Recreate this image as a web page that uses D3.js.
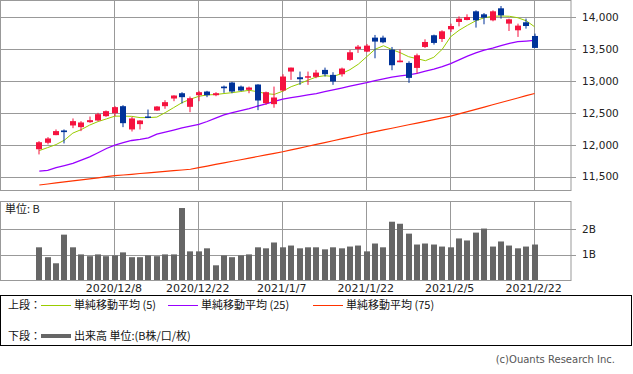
<!DOCTYPE html>
<html><head><meta charset="utf-8">
<script src="https://cdn.jsdelivr.net/npm/d3@7"></script>
<style>
html,body{margin:0;padding:0;background:#fff;}
svg{display:block;}
text{font-family:"DejaVu Sans",sans-serif;}
.jp{font-family:"Noto Sans CJK JP","DejaVu Sans",sans-serif;}
</style></head>
<body>
<svg id="chart" width="633" height="374"></svg>
<script>
const dates = ["2020/11/24","2020/11/25","2020/11/27","2020/11/30","2020/12/1","2020/12/2","2020/12/3","2020/12/4","2020/12/7","2020/12/8",
"2020/12/9","2020/12/10","2020/12/11","2020/12/14","2020/12/15","2020/12/16","2020/12/17","2020/12/18","2020/12/21","2020/12/22",
"2020/12/23","2020/12/24","2020/12/28","2020/12/29","2020/12/30","2020/12/31","2021/1/4","2021/1/5","2021/1/6","2021/1/7",
"2021/1/8","2021/1/11","2021/1/12","2021/1/13","2021/1/14","2021/1/15","2021/1/19","2021/1/20","2021/1/21","2021/1/22",
"2021/1/25","2021/1/26","2021/1/27","2021/1/28","2021/1/29","2021/2/1","2021/2/2","2021/2/3","2021/2/4","2021/2/5",
"2021/2/8","2021/2/9","2021/2/10","2021/2/11","2021/2/12","2021/2/16","2021/2/17","2021/2/18","2021/2/19","2021/2/22"];

const open  = [11930,12031,12151,12224,12302,12276,12354,12380,12448,12495,
12604,12240,12323,12443,12536,12604,12724,12807,12594,12776,
12833,12776,12911,12974,12911,12860,12943,12651,12636,12849,
13146,13057,13057,13063,13172,13094,13104,13328,13500,13458,
13677,13677,13490,13292,13281,13203,13531,13714,13656,13807,
13922,13953,14089,14042,13948,14136,13896,13792,13917,13703];
const high  = [12057,12120,12240,12240,12412,12370,12442,12500,12537,12604,
12620,12437,12385,12552,12605,12698,12775,12823,12755,12844,
12844,12823,12927,12984,12927,12911,12948,12833,12911,13104,
13208,13146,13146,13172,13208,13136,13208,13484,13562,13578,
13719,13708,13531,13490,13307,13427,13651,13724,13792,13896,
14010,14042,14104,14062,14104,14172,13974,13896,13975,13740];
const low   = [11849,12005,12150,12021,12260,12214,12344,12370,12437,12448,
12276,12208,12240,12417,12530,12563,12682,12646,12510,12682,
12745,12760,12813,12807,12838,12807,12542,12625,12580,12833,
13016,12938,12938,13042,13068,12938,13068,13313,13438,13450,
13354,13589,13167,13292,12969,13115,13516,13568,13609,13766,
13854,13948,13834,13886,13933,13974,13781,13688,13818,13516];
const close = [12040,12099,12214,12198,12370,12349,12385,12479,12526,12589,
12338,12412,12380,12427,12599,12667,12771,12745,12729,12823,
12776,12807,12885,12833,12849,12896,12693,12823,12740,13068,
13208,13026,13073,13130,13104,12990,13193,13448,13536,13552,
13615,13604,13245,13318,13047,13401,13609,13594,13776,13859,
13974,14000,13948,13990,14089,14026,13964,13865,13859,13516];

const volume = [1.29,0.90,0.66,1.79,1.29,1.01,0.94,1.01,0.94,0.97,
1.09,0.90,0.90,0.97,0.94,1.01,1.01,2.84,1.13,1.13,
1.25,0.58,0.97,0.90,0.97,1.01,1.29,1.25,1.48,1.29,
1.36,1.25,1.29,1.29,1.21,1.29,1.25,1.32,1.36,1.13,
1.44,1.29,2.30,2.22,1.83,1.40,1.44,1.40,1.32,1.29,
1.64,1.56,1.87,2.03,1.32,1.52,1.36,1.25,1.32,1.40];

const ma5 = [11909,11956,12003,12073,12183,12238,12308,12363,12405,12448,
12448,12445,12425,12425,12433,12503,12581,12659,12714,12758,
12780,12786,12802,12816,12834,12852,12831,12800,12789,12839,
12909,12956,13011,13061,13081,13070,13113,13175,13261,13378,
13495,13550,13490,13441,13378,13347,13316,13370,13495,13691,
13792,13870,13941,13988,14011,14016,14011,13988,13941,13847];

const ma25 = [11589,11600,11644,11675,11709,11761,11811,11875,11942,11995,
12034,12067,12086,12109,12167,12198,12230,12264,12292,12320,
12364,12416,12467,12502,12536,12567,12605,12642,12678,12716,
12738,12759,12781,12802,12831,12859,12888,12917,12947,12973,
13003,13031,13058,13077,13095,13119,13152,13183,13223,13270,
13328,13387,13439,13480,13514,13552,13588,13613,13623,13633];

const ma75 = [11370,11386,11403,11419,11435,11451,11467,11483,11500,11516,
11527,11538,11550,11561,11572,11583,11594,11605,11617,11642,
11667,11692,11717,11742,11766,11791,11816,11841,11866,11891,
11920,11948,11977,12006,12034,12063,12092,12120,12149,12178,
12205,12232,12259,12286,12313,12340,12367,12394,12421,12448,
12484,12519,12555,12590,12626,12661,12697,12732,12768,12803];

const priceTicks = [11500,12000,12500,13000,13500,14000];
const volumeTicks = [1,2];
const volumeTickLabels = ["1B","2B"];
const dateTicks = ["2020/12/8","2020/12/22","2021/1/7","2021/1/22","2021/2/5","2021/2/22"];

const svg = d3.select("#chart");
const W = 571;
const priceTop = 0.5, priceBottom = 190.5;
const volTop = 201.5, volBottom = 280.5;
const GRID = "#999";

const x = d3.scalePoint().domain(dates).range([39.3, 534.6]);
const y = d3.scaleLinear().domain([11292, 14266]).range([190, 0]);
const yv = d3.scaleLinear().domain([0, 3.09]).range([280, 201.7]);

const px = v => Math.round(v) + 0.5;

// price panel gridlines
const gP = svg.append("g");
gP.selectAll("line.h").data(priceTicks).join("line")
  .attr("x1", 0).attr("x2", W + 5)
  .attr("y1", d => px(y(d))).attr("y2", d => px(y(d)))
  .attr("stroke", GRID).attr("stroke-width", 1);
gP.selectAll("line.v").data(dateTicks).join("line")
  .attr("x1", d => px(x(d)-1)).attr("x2", d => px(x(d)-1))
  .attr("y1", priceTop).attr("y2", priceBottom)
  .attr("stroke", GRID);
gP.append("rect").attr("x", 0.5).attr("y", priceTop).attr("width", W - 0.5).attr("height", priceBottom - priceTop)
  .attr("fill", "none").attr("stroke", GRID);
gP.selectAll("text").data(priceTicks).join("text")
  .attr("x", 582).attr("y", d => y(d)).attr("dy", "0.36em")
  .attr("font-size", "10.5px").attr("fill", "#222")
  .text(d => d3.format(",")(d));

// moving averages
const line = arr => d3.line().x((d, i) => x(dates[i])).y(d => y(d))(arr);
svg.append("path").attr("d", line(ma75)).attr("fill", "none").attr("stroke", "#ff3300").attr("stroke-width", 1.2);
svg.append("path").attr("d", line(ma25)).attr("fill", "none").attr("stroke", "#9900ff").attr("stroke-width", 1.3);
svg.append("path").attr("d", line(ma5)).attr("fill", "none").attr("stroke", "#99cc00").attr("stroke-width", 1);

// candles
const RED = "#f5133f", BLUE = "#003399";
const candles = svg.append("g").selectAll("g").data(dates).join("g");
candles.each(function(d, i) {
  const g = d3.select(this);
  const cx = Math.round(x(d));
  const col = close[i] >= open[i] ? RED : BLUE;
  g.append("rect").attr("x", cx - 0.5).attr("width", 1)
    .attr("y", y(high[i])).attr("height", Math.max(1, y(low[i]) - y(high[i])))
    .attr("fill", col);
  const top = y(Math.max(open[i], close[i])), bot = y(Math.min(open[i], close[i]));
  g.append("rect").attr("x", cx - 3).attr("width", 6)
    .attr("y", top).attr("height", Math.max(1.5, bot - top))
    .attr("fill", col);
});

// volume panel
const gV = svg.append("g");
gV.selectAll("line.h").data(volumeTicks).join("line")
  .attr("x1", 0).attr("x2", W + 5)
  .attr("y1", d => px(yv(d))).attr("y2", d => px(yv(d)))
  .attr("stroke", GRID);
gV.selectAll("line.v").data(dateTicks).join("line")
  .attr("x1", d => px(x(d)-1)).attr("x2", d => px(x(d)-1))
  .attr("y1", volTop).attr("y2", volBottom)
  .attr("stroke", GRID);
gV.append("rect").attr("x", 0.5).attr("y", volTop).attr("width", W - 0.5).attr("height", volBottom - volTop)
  .attr("fill", "none").attr("stroke", GRID);
gV.selectAll("rect.bar").data(volume).join("rect").attr("class", "bar")
  .attr("x", (d, i) => Math.round(x(dates[i])) - 3).attr("width", 6)
  .attr("y", d => yv(d)).attr("height", d => yv(0) - yv(d))
  .attr("fill", "#666");
gV.selectAll("text.t").data(volumeTicks).join("text").attr("class", "t")
  .attr("x", 582).attr("y", d => yv(d)).attr("dy", "0.36em")
  .attr("font-size", "10.5px").attr("fill", "#222")
  .text((d, i) => volumeTickLabels[i]);
svg.append("text").attr("class", "jp").attr("x", 5).attr("y", 209).attr("dy", "0.36em")
  .attr("font-size", "11px").attr("fill", "#222").text("単位: B");

// date labels
svg.append("g").selectAll("text").data(dateTicks).join("text")
  .attr("x", d => x(d) - 1).attr("y", 288).attr("dy", "0.36em")
  .attr("text-anchor", "middle").attr("font-size", "11px").attr("fill", "#222")
  .text(d => d);

// legend
const lg = svg.append("g");
lg.append("rect").attr("x", 0.5).attr("y", 295.5).attr("width", 631).attr("height", 50)
  .attr("fill", "none").attr("stroke", "#000");
lg.append("text").attr("class", "jp").attr("x", 8).attr("y", 305).attr("dy", "0.36em").attr("font-size", "11px").attr("fill", "#111").text("上段：");
lg.append("text").attr("class", "jp").attr("x", 8).attr("y", 336).attr("dy", "0.36em").attr("font-size", "11px").attr("fill", "#111").text("下段：");
const legendItems = [
  {x: 41, color: "#99cc00", label: "単純移動平均 (5)"},
  {x: 168, color: "#9900ff", label: "単純移動平均 (25)"},
  {x: 313, color: "#ff3300", label: "単純移動平均 (75)"}
];
legendItems.forEach(it => {
  lg.append("line").attr("x1", it.x).attr("x2", it.x + 30).attr("y1", 305.5).attr("y2", 305.5)
    .attr("stroke", it.color).attr("stroke-width", 1);
  lg.append("text").attr("class", "jp").attr("x", it.x + 33).attr("y", 305).attr("dy", "0.36em")
    .attr("font-size", "11px").attr("fill", "#111").text(it.label);
});
lg.append("line").attr("x1", 41).attr("x2", 71).attr("y1", 336).attr("y2", 336)
  .attr("stroke", "#666").attr("stroke-width", 4);
lg.append("text").attr("class", "jp").attr("x", 74).attr("y", 336).attr("dy", "0.36em")
  .attr("font-size", "11px").attr("fill", "#111").text("出来高 単位:(B株/口/枚)");

svg.append("text").attr("x", 615).attr("y", 359).attr("dy", "0.36em").attr("text-anchor", "end")
  .attr("font-size", "10px").attr("fill", "#555").text("(c)Ouants Research Inc.");
</script>
</body></html>
